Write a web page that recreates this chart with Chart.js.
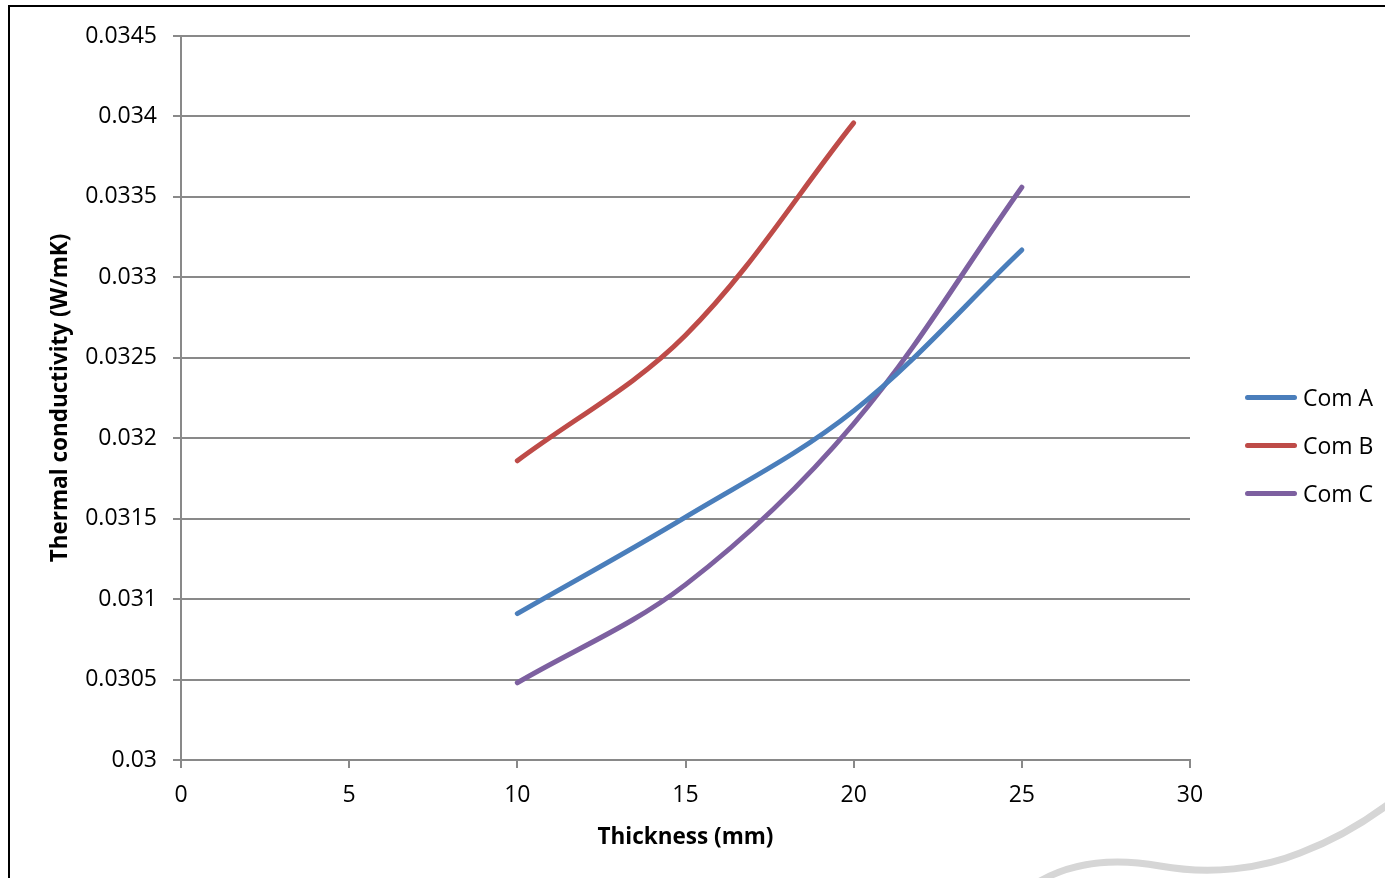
<!DOCTYPE html>
<html>
<head>
<meta charset="utf-8">
<script src="https://cdn.jsdelivr.net/npm/chart.js@4"></script>
<style>
  body { margin: 0; background: #fff; }
  #wrap { position: relative; width: 1385px; height: 878px; overflow: hidden; }
  #frame {
    position: absolute; left: 8px; top: 5px; width: 1500px; height: 1000px;
    border: 2px solid #000; box-sizing: border-box;
  }
  #box { position: absolute; left: 0; top: 0; width: 1385px; height: 878px; }
  #swoosh { position: absolute; left: 0; top: 0; }
  #legend ul { list-style: none; margin: 0; padding: 0; position: absolute; left: 1245px; top: 373px; }
  #legend li { height: 48px; }
</style>
</head>
<body>
<div id="wrap">
  <div id="frame"></div>
  <svg id="swoosh" width="1385" height="878">
    <path d="M1040 881 C1070 864 1110 857 1160 866 C1210 875 1260 869 1300 853 C1335 840 1362 824 1390 803"
          fill="none" stroke="#d6d6d6" stroke-width="7"/>
  </svg>
  <div id="box"><canvas id="thermal-chart"></canvas></div>
  <div id="legend"><ul></ul></div>
</div>
<script>
// Thickness (mm) on x, thermal conductivity (W/mK) on y
const thickness = [10, 15, 20, 25];
const thicknessB = [10, 15, 20];
const comA = [0.03091, 0.03151, 0.03217, 0.03317];
const comB = [0.03186, 0.03264, 0.03396];
const comC = [0.03048, 0.03109, 0.03209, 0.03356];
const seriesNames = ['Com A', 'Com B', 'Com C'];
const seriesColors = ['#4a7ebb', '#be4b48', '#7d60a0'];

const FONT = '"Open Sans", "Noto Sans", sans-serif';
const GRID = '#898989';

const toPoints = (xs, ys) => xs.map((x, i) => ({ x, y: ys[i] }));

const makeSet = (i, pts) => ({
  label: seriesNames[i],
  data: pts,
  showLine: true,
  borderColor: seriesColors[i],
  backgroundColor: seriesColors[i],
  borderWidth: 5,
  borderCapStyle: 'round',
  borderJoinStyle: 'round',
  pointRadius: 0,
  tension: 0.35,
});

const ctx = document.getElementById('thermal-chart');
// eslint-disable-next-line no-unused-vars
const chart = new Chart(ctx, {
  type: 'scatter',
  data: {
    datasets: [
      makeSet(0, toPoints(thickness, comA)),
      makeSet(1, toPoints(thicknessB, comB)),
      makeSet(2, toPoints(thickness, comC)),
    ],
  },
  options: {
    responsive: true,
    maintainAspectRatio: false,
    animation: false,
    layout: {
      padding: { top: 36, bottom: 0, left: 40, right: 195 },
    },
    scales: {
      x: {
        type: 'linear',
        min: 0,
        max: 30,
        ticks: {
          stepSize: 5,
          color: '#000',
          padding: 14,
          font: { family: FONT, size: 23 },
        },
        grid: {
          drawOnChartArea: false,
          color: GRID,
          lineWidth: 2,
          tickLength: 8,
        },
        border: { color: GRID, width: 2 },
        title: {
          display: true,
          text: 'Thickness (mm)',
          color: '#000',
          font: { family: FONT, size: 22.5, weight: 'bold' },
          padding: { top: 0, bottom: 27 },
        },
        afterFit(scale) { scale.height = 118; },
      },
      y: {
        min: 0.03,
        max: 0.0345,
        ticks: {
          stepSize: 0.0005,
          color: '#000',
          padding: 16,
          font: { family: FONT, size: 23 },
          callback: (v) => String(+v.toFixed(4)),
        },
        grid: {
          color: GRID,
          lineWidth: 2,
          tickLength: 8,
        },
        border: { color: GRID, width: 2 },
        title: {
          display: true,
          text: 'Thermal conductivity (W/mK)',
          color: '#000',
          font: { family: FONT, size: 22.5, weight: 'bold' },
          padding: { top: 7, bottom: 0 },
        },
        afterFit(scale) { scale.width = 141; },
      },
    },
    plugins: {
      legend: { display: false },
      tooltip: { enabled: false },
      htmlLegend: { containerID: 'legend' },
    },
  },
  plugins: [{
    id: 'htmlLegend',
    afterUpdate(c, args, options) {
      const ul = document.getElementById(options.containerID).querySelector('ul');
      if (!ul) return;
      while (ul.firstChild) ul.firstChild.remove();
      const items = c.options.plugins.legend.labels.generateLabels(c);
      items.forEach((item) => {
        const li = document.createElement('li');
        li.style.display = 'flex';
        li.style.alignItems = 'center';
        // short line sample
        const line = document.createElement('span');
        line.style.display = 'block';
        line.style.width = '52px';
        line.style.height = '5px';
        line.style.borderRadius = '3px';
        line.style.background = item.strokeStyle;
        line.style.marginRight = '6px';
        const label = document.createElement('span');
        label.style.fontFamily = FONT;
        label.style.fontSize = '23px';
        label.style.color = '#000';
        label.textContent = item.text;
        li.appendChild(line);
        li.appendChild(label);
        ul.appendChild(li);
      });
    },
  }],
});
</script>
</body>
</html>
